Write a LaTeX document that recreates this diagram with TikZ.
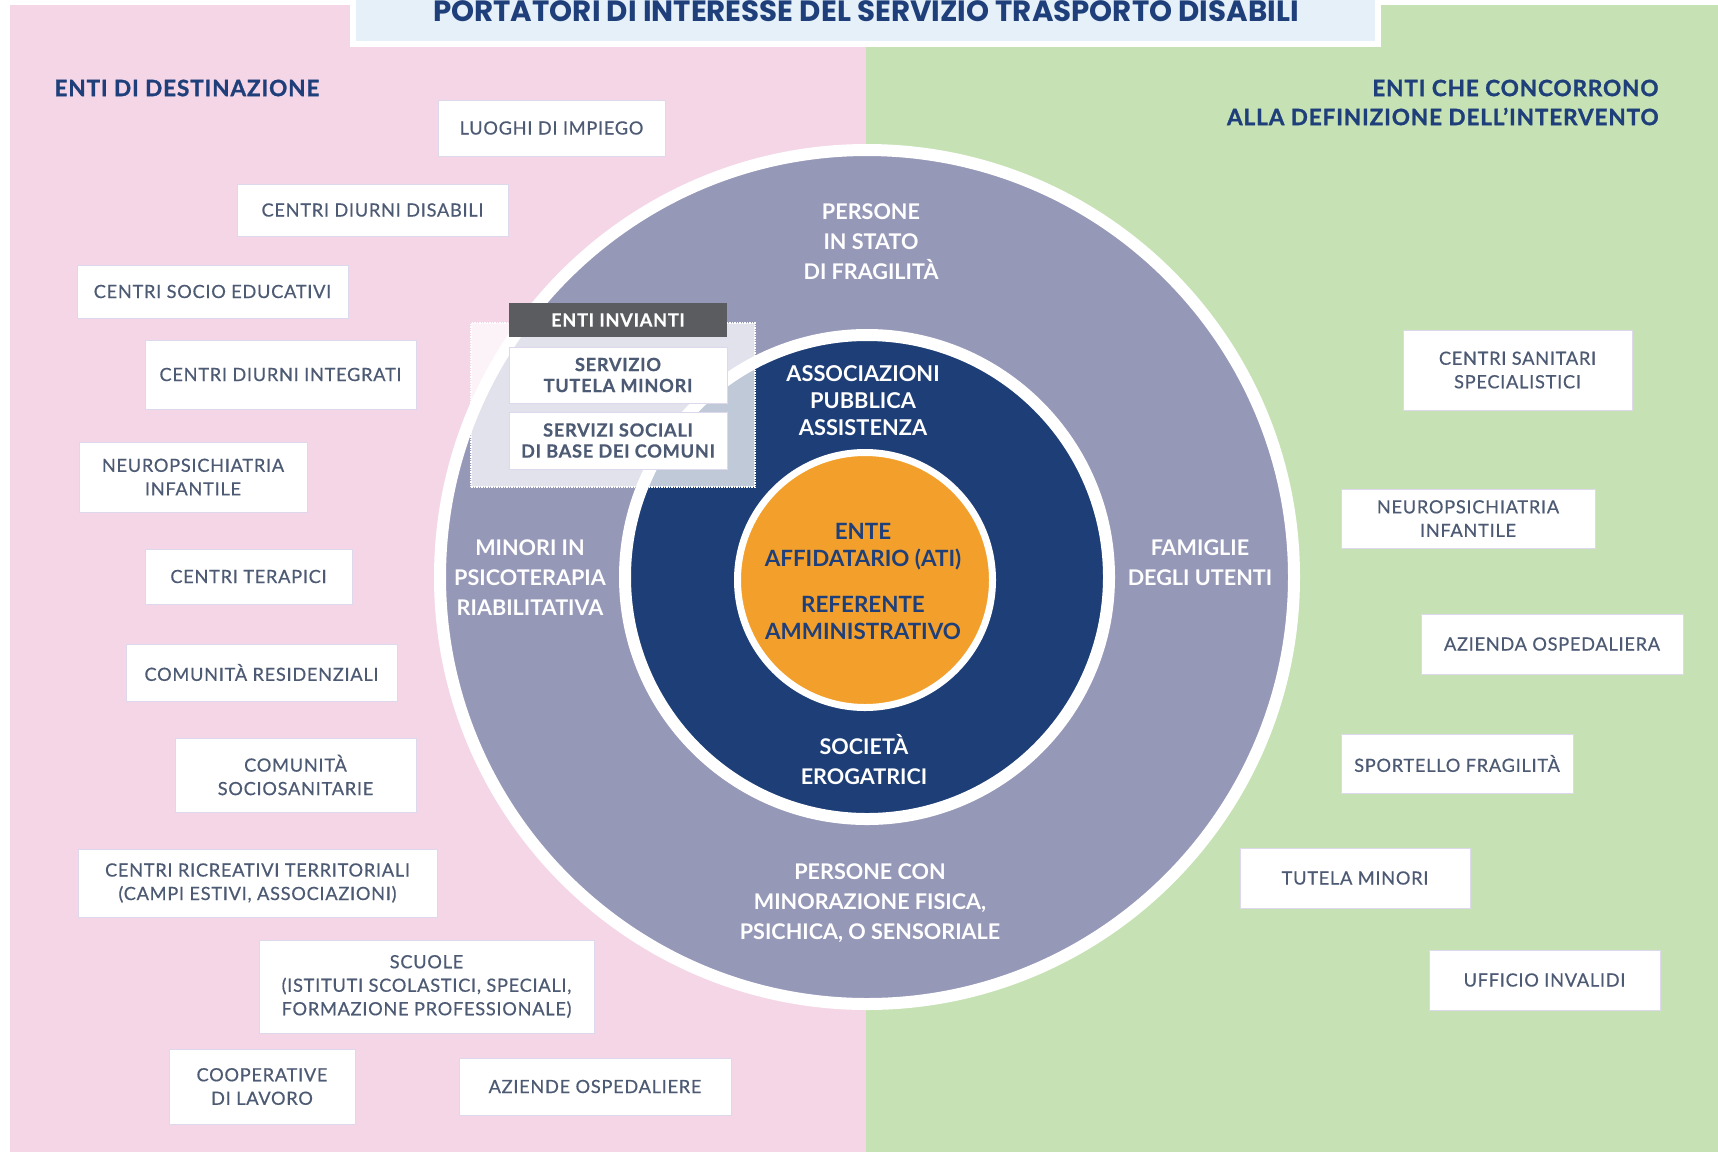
\documentclass[tikz,border=0pt]{standalone}
\usepackage{fontspec}
\setmainfont{Lato}
\newfontfamily\titlefont{Poppins}
\newfontfamily\boxfont{Lato}[LetterSpace=4, FakeBold=0.5]
\newfontfamily\headfont{Lato}[LetterSpace=4, BoldFeatures={FakeBold=1.2}]

\definecolor{pinkbg}{HTML}{F5D6E7}
\definecolor{greenbg}{HTML}{C6E2B4}
\definecolor{titlebg}{HTML}{E6F0F9}
\definecolor{navytext}{HTML}{1F3F7B}
\definecolor{lavender}{HTML}{9698B8}
\definecolor{navy}{HTML}{1D3E76}
\definecolor{orange}{HTML}{F2A02B}
\definecolor{boxtext}{HTML}{4D5A73}
\definecolor{boxline}{HTML}{DDD8EB}
\definecolor{headgrey}{HTML}{5B5C60}

\begin{document}
\begin{tikzpicture}[x=1pt, y=-1pt,
    box/.style={draw=boxline, line width=1pt, fill=white, text=boxtext, align=center,
      inner sep=0pt, font=\boxfont\fontsize{18.2}{23.5}\selectfont},
    disc/.style={circle, draw=white, inner sep=0pt},
    ring/.style={text=white, align=center, font=\bfseries\fontsize{21.6}{30}\selectfont},
    heading/.style={text=navytext, font=\headfont\bfseries\fontsize{22.5}{29}\selectfont},
  ]

\useasboundingbox (0,0) rectangle (1718,1152);
\fill[white] (0,0) rectangle (1718,1152);

  % Sides
  \fill[pinkbg] (10,5) rectangle (866,1152);
  \fill[greenbg] (866,5) rectangle (1718,1152);

  % Title
  \fill[white] (350,-5) rectangle (1381,47);
  \fill[titlebg] (356,-5) rectangle (1375,41);
  \node[anchor=base, text=navytext, font=\titlefont\bfseries\fontsize{29.3}{32}\selectfont]
    (title) at (866,21) {PORTATORI DI INTERESSE DEL SERVIZIO TRASPORTO DISABILI};

  % Headings
  \node[heading, anchor=west] (hleft) at (51,88) {ENTI DI DESTINAZIONE};
  \node[heading, anchor=east, align=right] (hright) at (1662,102.5)
    {ENTI CHE CONCORRONO\\ALLA DEFINIZIONE DELL’INTERVENTO};

  % Circles
  \node[disc, fill=lavender, line width=12pt, minimum size=854pt] (outer) at (867,577) {};
  \node[disc, fill=navy, line width=12pt, minimum size=484pt] (middle) at (867,577) {};
  \node[disc, fill=orange, line width=7pt, minimum size=255pt] (core) at (865,580) {};

  % Outer ring texts
  \node[ring] (fragili) at (871,242) {PERSONE\\IN STATO\\DI FRAGILITÀ};
  \node[ring] (minori) at (530,578) {MINORI IN\\PSICOTERAPIA\\RIABILITATIVA};
  \node[ring] (famiglie) at (1200,562.5) {FAMIGLIE\\DEGLI UTENTI};
  \node[ring] (minorati) at (870,903) {PERSONE CON\\MINORAZIONE FISICA,\\PSICHICA, O SENSORIALE};

  % Middle ring texts
  \node[ring, font=\bfseries\fontsize{21.8}{27}\selectfont] (assoc) at (863,401)
    {ASSOCIAZIONI\\PUBBLICA\\ASSISTENZA};
  \node[ring] (societa) at (864,759.5) {SOCIETÀ\\EROGATRICI};

  % Core text
  \node[text=navytext, align=center, font=\bfseries\fontsize{22.4}{27}\selectfont] (ente)
    at (863,581) {ENTE\\AFFIDATARIO (ATI)\\[19pt]REFERENTE\\AMMINISTRATIVO};

  % Enti invianti
  \node[draw=white, densely dotted, line width=1.5pt, fill=white, fill opacity=0.72,
    minimum width=284pt, minimum height=164pt, inner sep=0pt] (invianti) at (613,405) {};
  \node[fill=headgrey, text=white, inner sep=0pt, minimum width=218pt, minimum height=34pt,
    font=\boxfont\bfseries\fontsize{18.2}{21}\selectfont] (head) at (618,320) {ENTI INVIANTI};
  \node[box, font=\boxfont\bfseries\fontsize{18.2}{21}\selectfont, minimum width=218pt,
    minimum height=56pt] (tutela) at (618,375) {SERVIZIO\\TUTELA MINORI};
  \node[box, font=\boxfont\bfseries\fontsize{18.2}{21}\selectfont, minimum width=218pt,
    minimum height=57pt] (sociali) at (618,440.5) {SERVIZI SOCIALI\\DI BASE DEI COMUNI};

  % Enti di destinazione
  \foreach \nm/\xa/\ya/\xb/\yb/\txt in {
      l1/438/100/665/156/{LUOGHI DI IMPIEGO},
      l2/237/184/508/236/{CENTRI DIURNI DISABILI},
      l3/77/265/348/318/{CENTRI SOCIO EDUCATIVI},
      l4/145/340/416/409/{CENTRI DIURNI INTEGRATI},
      l5/79/442/307/512/{NEUROPSICHIATRIA\\INFANTILE},
      l6/145/549/352/604/{CENTRI TERAPICI},
      l7/126/644/397/701/{COMUNITÀ RESIDENZIALI},
      l8/175/738/416/812/{COMUNITÀ\\SOCIOSANITARIE},
      l9/78/849/437/917/{CENTRI RICREATIVI TERRITORIALI\\(CAMPI ESTIVI, ASSOCIAZIONI)},
      l10/259/940/594/1033/{SCUOLE\\(ISTITUTI SCOLASTICI, SPECIALI,\\FORMAZIONE PROFESSIONALE)},
      l11/169/1049/355/1124/{COOPERATIVE\\DI LAVORO},
      l12/459/1058/731/1115/{AZIENDE OSPEDALIERE}}{
      \node[box, minimum width={(\xb-\xa)*1pt}, minimum height={(\yb-\ya)*1pt}]
        (\nm) at ({(\xa+\xb)/2},{(\ya+\yb)/2}) {\txt};
    }

  % Enti che concorrono
  \foreach \nm/\xa/\ya/\xb/\yb/\txt in {
      r1/1403/330/1632/410/{CENTRI SANITARI\\SPECIALISTICI},
      r2/1341/489/1595/548/{NEUROPSICHIATRIA\\INFANTILE},
      r3/1421/614/1683/674/{AZIENDA OSPEDALIERA},
      r4/1341/734/1573/793/{SPORTELLO FRAGILITÀ},
      r5/1240/848/1470/908/{TUTELA MINORI},
      r6/1429/950/1660/1010/{UFFICIO INVALIDI}}{
      \node[box, minimum width={(\xb-\xa)*1pt}, minimum height={(\yb-\ya)*1pt}]
        (\nm) at ({(\xa+\xb)/2},{(\ya+\yb)/2}) {\txt};
    }

\end{tikzpicture}
\end{document}
